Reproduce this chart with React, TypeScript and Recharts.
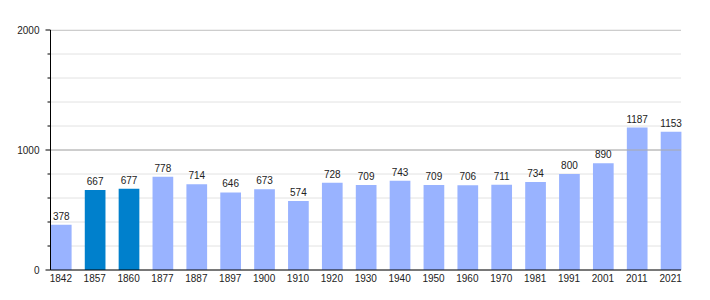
import { BarChart, Bar, XAxis, YAxis, Cell, LabelList, ReferenceLine, CartesianGrid } from "recharts";

const years = ["1842", "1857", "1860", "1877", "1887", "1897", "1900", "1910", "1920", "1930", "1940", "1950", "1960", "1970", "1981", "1991", "2001", "2011", "2021"];
const population = [378, 667, 677, 778, 714, 646, 673, 574, 728, 709, 743, 709, 706, 711, 734, 800, 890, 1187, 1153];
const highlighted = ["1857", "1860"];
const yTicks = [0, 200, 400, 600, 800, 1000, 1200, 1400, 1600, 1800, 2000];
const majorTicks = [1000, 2000];

const data = years.map((year, i) => ({ year, value: population[i] }));

const FONT = "'Liberation Sans', Arial, sans-serif";

const YTick = ({ x, y, payload }: any) => {
  const major = payload.value % 1000 === 0;
  return (
    <g>
      <line x1={x - (major ? 5 : 3)} x2={x} y1={y} y2={y} stroke="#000" />
      {major && (
        <text x={x - 11} y={y + 3.5} textAnchor="end" fontSize={10} fontFamily={FONT} fill="#222">
          {payload.value}
        </text>
      )}
    </g>
  );
};

const XTick = ({ x, y, payload }: any) => (
  <text x={x} y={y + 12} textAnchor="middle" fontSize={10} fontFamily={FONT} fill="#222">
    {payload.value}
  </text>
);

const ValueLabel = ({ x, y, width, value }: any) => (
  <text x={x + width / 2} y={y - 5} textAnchor="middle" fontSize={10} fontFamily={FONT} fill="#222">
    {value}
  </text>
);

export default function App() {
  return (
    <div style={{ position: "absolute", left: 0, top: 0, background: "#fff" }}>
      <BarChart
        width={710}
        height={300}
        data={data}
        margin={{ top: 30, right: 29, bottom: 0, left: 0 }}
      >
        <CartesianGrid vertical={false} stroke="#e2e2e2" />
        {majorTicks.map((t) => (
          <ReferenceLine key={t} y={t} stroke="#aaa" ifOverflow="hidden" />
        ))}
        <XAxis
          dataKey="year"
          height={30}
          padding={{ left: -6.6, right: -6.6 }}
          tick={<XTick />}
          tickLine={false}
          tickSize={0}
          tickMargin={0}
          axisLine={{ stroke: "#000" }}
          interval={0}
        />
        <YAxis
          width={50.5}
          domain={[0, 2000]}
          ticks={yTicks}
          tick={<YTick />}
          tickLine={false}
          tickSize={0}
          tickMargin={0}
          axisLine={{ stroke: "#000" }}
          interval={0}
        />
        <Bar dataKey="value" barSize={20.7} isAnimationActive={false}>
          {data.map((d) => (
            <Cell key={d.year} fill={highlighted.includes(d.year) ? "#0080cc" : "#99b3ff"} />
          ))}
          <LabelList dataKey="value" content={<ValueLabel />} />
        </Bar>
      </BarChart>
    </div>
  );
}
